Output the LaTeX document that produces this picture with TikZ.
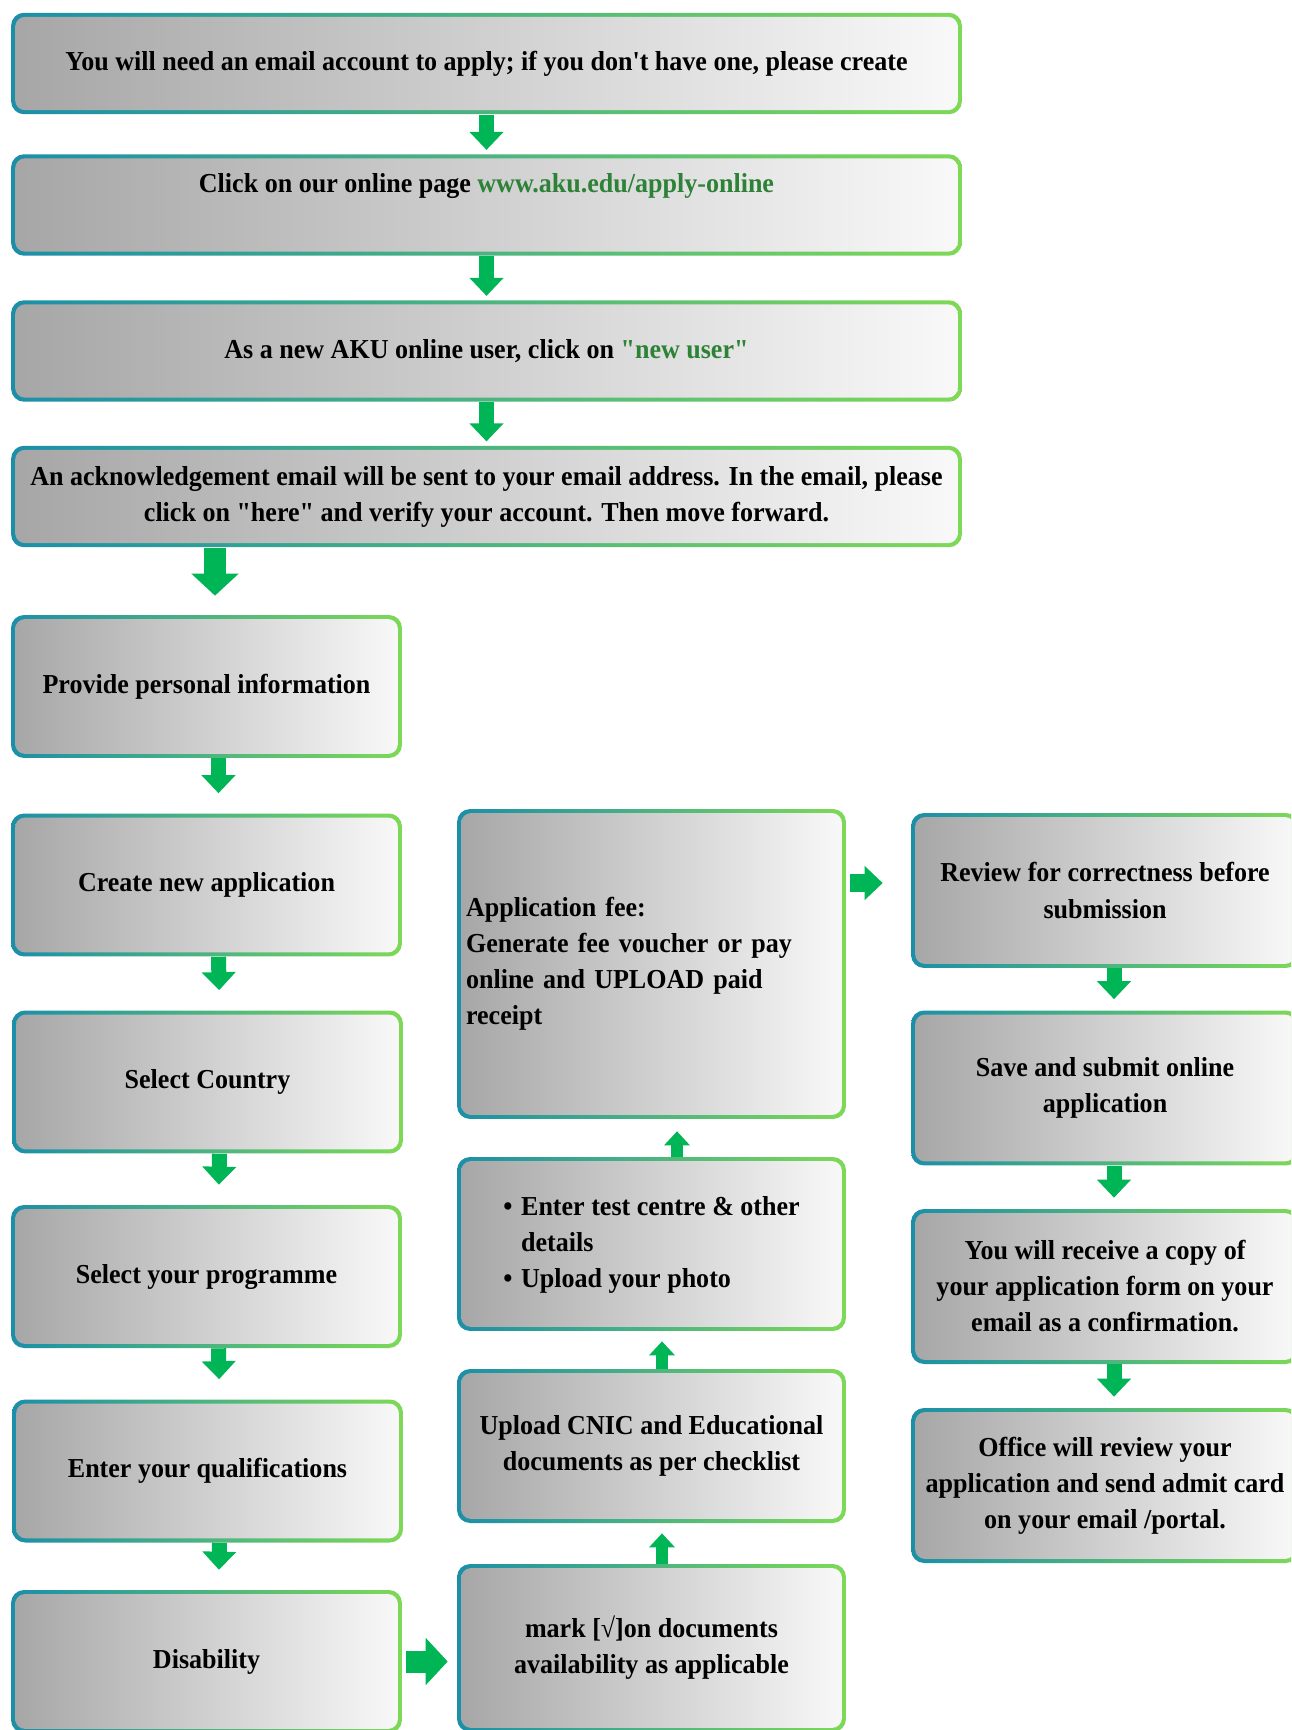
\documentclass[tikz,border=0pt]{standalone}
\usepackage{fontspec}
\setmainfont{Liberation Serif}[Ligatures=TeXOff, FakeStretch=0.95]
\usetikzlibrary{arrows.meta}
\definecolor{edgeL}{RGB}{27,143,168}
\definecolor{edgeR}{RGB}{126,217,87}
\definecolor{fillL}{RGB}{166,166,166}
\definecolor{fillR}{RGB}{249,249,249}
\definecolor{arrgreen}{RGB}{0,181,86}
\definecolor{linkgreen}{RGB}{45,130,55}
\begin{document}
\begin{tikzpicture}[x=0.02cm, y=-0.02cm,
    box/.style={rectangle, rounded corners=0.26cm, left color=edgeL, right color=edgeR,
      path picture={\shade[left color=fillL, right color=fillR, rounded corners=0.2cm]
        ([shift={(2.3pt,2.3pt)}]path picture bounding box.south west) rectangle
        ([shift={(-2.3pt,-2.3pt)}]path picture bounding box.north east);},
      align=center, font=\bfseries\fontsize{15.6}{20.5}\selectfont},
    topbox/.style={box, minimum width=19.02cm, minimum height=2.03cm},
    lbox/.style={box, minimum width=7.82cm, minimum height=2.86cm},
    mbox/.style={box, minimum width=7.78cm},
    rbox/.style={box, minimum width=7.76cm, minimum height=3.1cm},
    flow/.style={draw=arrgreen, line width=0.3cm, -{Triangle[width=0.66cm,length=0.36cm]}},
    bigflow/.style={flow, line width=0.44cm, -{Triangle[width=0.92cm,length=0.44cm]}},
    upflow/.style={flow, line width=0.24cm, -{Triangle[width=0.5cm,length=0.28cm]}},
  ]
    \useasboundingbox (0,0) rectangle (1291,1730);
    \fill[white] (0,0) rectangle (1291,1730);
    \clip (0,0) rectangle (1291,1730);

    % Account steps
    \node[topbox] (b1) at (486.5,63.5) {You will need an email account to apply; if you don't have one, please create};
    \node[topbox, text depth=0.9cm] (b2) at (486.5,205) {Click on our online page \textcolor{linkgreen}{www.aku.edu/apply-online}};
    \node[topbox] (b3) at (486.5,351) {As a new AKU online user, click on \textcolor{linkgreen}{"new user"}};
    \node[topbox] (b4) at (486.5,496.5) {An acknowledgement email will be sent to your email address. In the email, please\\click on "here" and verify your account. Then move forward.};

    % Left column
    \node[lbox] (prov) at (206.5,686.5) {Provide personal information};
    \node[lbox] (create) at (206.5,885) {Create new application};
    \node[lbox] (country) at (207.5,1082) {Select Country};
    \node[lbox] (prog) at (206.5,1276.5) {Select your programme};
    \node[lbox] (qual) at (207.5,1471) {Enter your qualifications};
    \node[lbox] (disab) at (206.5,1661.5) {Disability};

    % Middle column
    \node[mbox, minimum height=6.2cm, align=left, text width=7.42cm, inner xsep=0.18cm] (fee) at (651.5,964)
      {Application fee:\\Generate fee voucher or pay\\online and UPLOAD paid\\receipt};
    \node[mbox, minimum height=3.48cm] (tests) at (651.5,1244)
      {\begin{tabular}{@{}l@{\hspace{5pt}}l@{}}\textbullet & Enter test centre \& other\\ & details\\ \textbullet & Upload your photo\end{tabular}};
    \node[mbox, minimum height=3.08cm] (cnic) at (651.5,1446) {Upload CNIC and Educational\\documents as per checklist};
    \node[mbox, minimum height=3.36cm] (mark) at (651.5,1648) {mark [√]on documents\\availability as applicable};

    % Right column
    \node[rbox] (review) at (1105,890.5) {Review for correctness before\\submission};
    \node[rbox] (save) at (1105,1088) {Save and submit online\\application};
    \node[rbox] (recv) at (1105,1286.5) {You will receive a copy of\\your application form on your\\email as a confirmation.};
    \node[rbox] (office) at (1105,1485.5) {Office will review your\\application and send admit card\\on your email /portal.};

    % Arrows
    \foreach \a/\b in {b1/b2, b2/b3, b3/b4}
      \draw[flow, shorten >=0.08cm] (\a.south) -- (\b.north);
    \draw[bigflow, shorten >=0.38cm] ([xshift=0.17cm]b4.south -| prov.north) -- ([xshift=0.17cm]prov.north);
    \foreach \a/\b in {prov/create, create/country, country/prog, prog/qual, qual/disab}
      \draw[flow, shorten >=0.4cm] ([xshift=0.24cm]\a.south) -- ([xshift=0.24cm]\b.north);
    \draw[upflow, shorten >=0.24cm] ([xshift=0.51cm]tests.north) -- ([xshift=0.51cm]fee.south);
    \draw[upflow, shorten >=0.2cm] ([xshift=0.21cm]cnic.north) -- ([xshift=0.21cm]tests.south);
    \draw[upflow, shorten >=0.2cm] ([xshift=0.21cm]mark.north) -- ([xshift=0.21cm]cnic.south);
    \foreach \a/\b in {review/save, save/recv, recv/office}
      \draw[flow, shorten >=0.22cm] ([xshift=0.18cm]\a.south) -- ([xshift=0.18cm]\b.north);
    \draw[flow, line width=0.36cm, shorten <=0.08cm, shorten >=0.56cm] ([yshift=0.15cm]fee.east |- review.west) -- ([yshift=0.15cm]review.west);
    \draw[bigflow, shorten <=0.08cm, shorten >=0.18cm] (disab.east) -- (mark.west |- disab.east);
  \end{tikzpicture}
\end{document}
